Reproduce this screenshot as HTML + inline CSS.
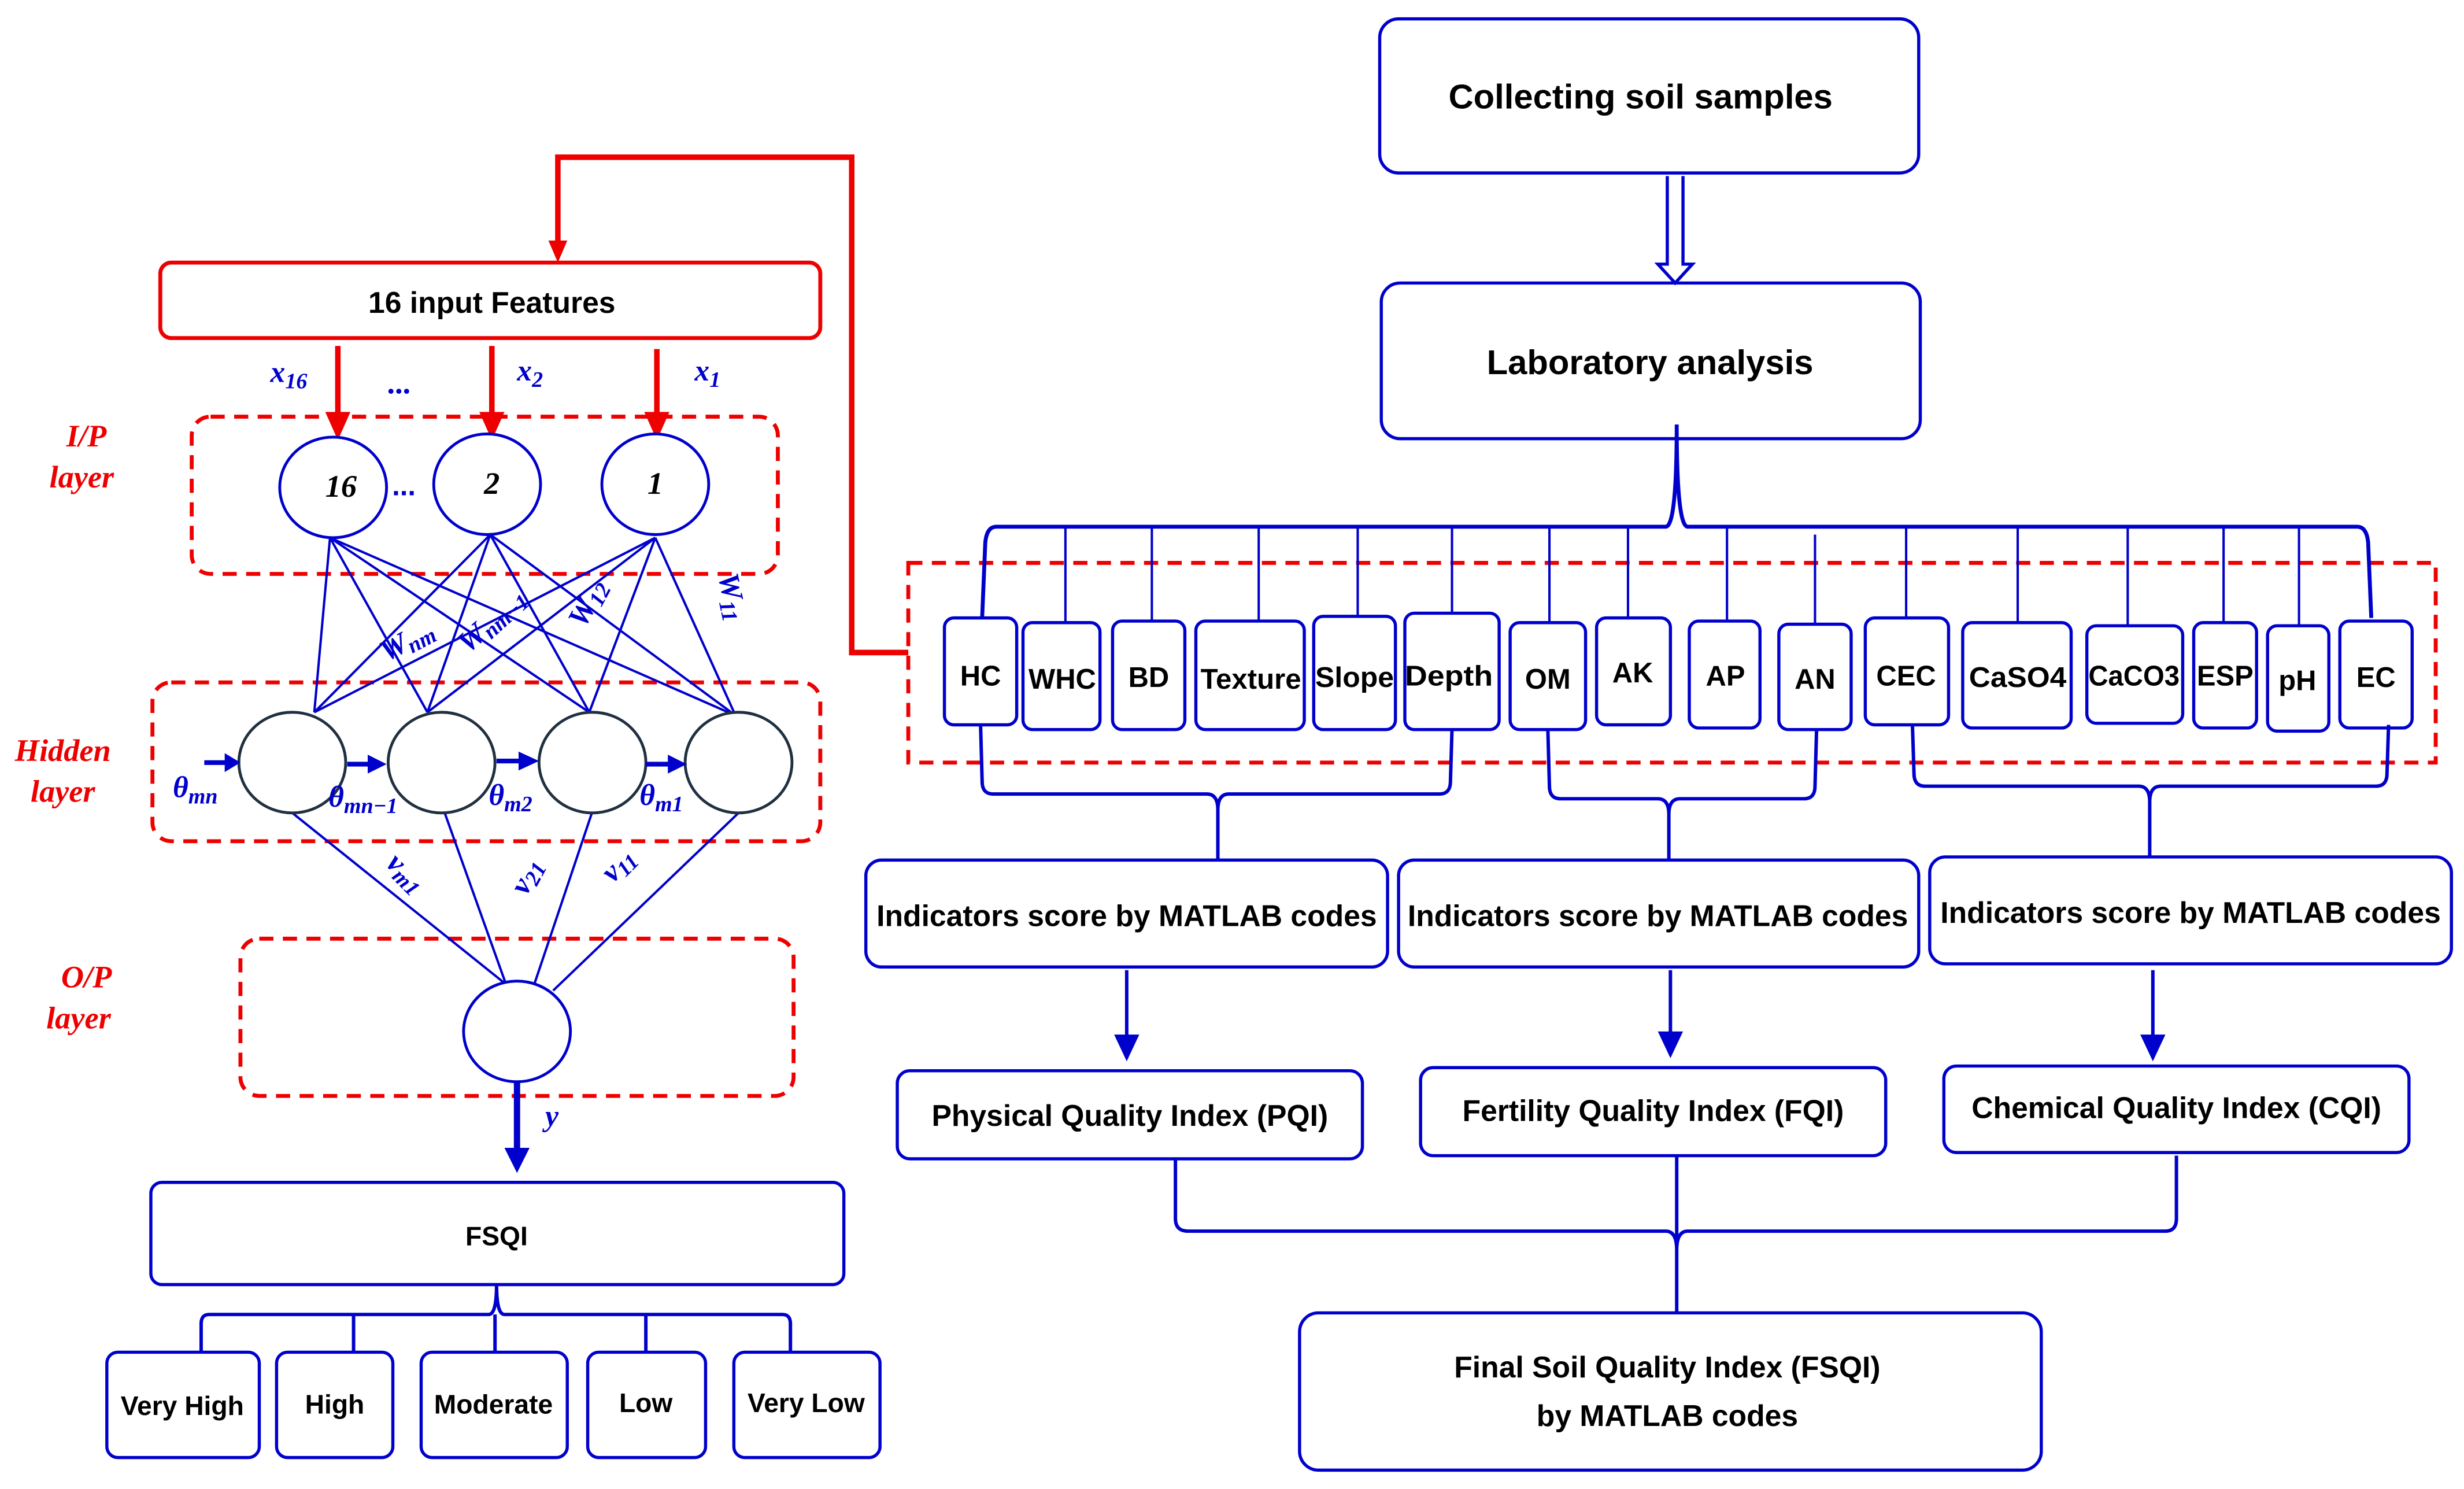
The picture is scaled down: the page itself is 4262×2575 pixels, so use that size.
<!DOCTYPE html>
<html><head><meta charset="utf-8"><style>html,body{margin:0;padding:0;background:#fff}svg{display:block}</style></head>
<body>
<svg width="4262" height="2575" viewBox="0 0 1568 947" preserveAspectRatio="none" xmlns="http://www.w3.org/2000/svg">
<g font-family="Liberation Sans, sans-serif" font-weight="bold">
<polyline points="578,415 542,415 542,100 355,100 355,155" fill="none" stroke="#e00" stroke-width="3.5"/>
<path d="M349,153 L361,153 L355,167 Z" fill="#e00"/>
<rect x="102" y="167" width="420" height="48" rx="7" fill="#fff" stroke="#e00" stroke-width="2.5"/>
<text x="313" y="199" font-size="19" text-anchor="middle">16 input Features</text>
<g stroke="#e00" stroke-width="3.5">
<line x1="215" y1="220" x2="215" y2="266"/><line x1="313" y1="220" x2="313" y2="266"/><line x1="418" y1="222" x2="418" y2="266"/></g>
<g fill="#e00"><path d="M207,262 L223,262 L215,280 Z"/><path d="M305,262 L321,262 L313,280 Z"/><path d="M410,262 L426,262 L418,280 Z"/></g>
<g fill="#00c" font-family="Liberation Serif, serif" font-style="italic" font-size="19">
<text x="172" y="243">x<tspan font-size="14" dy="4">16</tspan></text>
<text x="247" y="250" font-size="20">...</text>
<text x="329" y="242">x<tspan font-size="14" dy="4">2</tspan></text>
<text x="442" y="242">x<tspan font-size="14" dy="4">1</tspan></text>
</g>
<g fill="none" stroke="#e00" stroke-width="2.5" stroke-dasharray="9,6">
<rect x="122" y="265" width="373" height="100" rx="12"/>
<rect x="97" y="434" width="425" height="101" rx="12"/>
<rect x="153" y="597" width="352" height="100" rx="12"/>
<rect x="578" y="358" width="972" height="127"/>
</g>
<g fill="#e00" font-family="Liberation Serif, serif" font-style="italic" font-size="20" text-anchor="middle">
<text x="55" y="284">I/P</text><text x="52" y="310">layer</text>
<text x="40" y="484">Hidden</text><text x="40" y="510">layer</text>
<text x="55" y="628">O/P</text><text x="50" y="654">layer</text>
</g>
<g stroke="#00c" stroke-width="1.5">
<line x1="210" y1="342" x2="200" y2="453"/><line x1="210" y1="342" x2="272" y2="453"/><line x1="210" y1="342" x2="375" y2="453"/><line x1="210" y1="342" x2="468" y2="455"/>
<line x1="312" y1="340" x2="200" y2="453"/><line x1="312" y1="340" x2="272" y2="453"/><line x1="312" y1="340" x2="375" y2="453"/><line x1="312" y1="340" x2="468" y2="455"/>
<line x1="417" y1="342" x2="200" y2="453"/><line x1="417" y1="342" x2="272" y2="453"/><line x1="417" y1="342" x2="375" y2="453"/><line x1="417" y1="342" x2="468" y2="455"/>
<line x1="186" y1="517" x2="322" y2="626"/><line x1="283" y1="517" x2="322" y2="626"/><line x1="377" y1="516" x2="340" y2="626"/><line x1="470" y1="517" x2="352" y2="630"/>
</g>
<g fill="#fff" stroke="#00c" stroke-width="1.8">
<ellipse cx="212" cy="310" rx="34" ry="32"/><ellipse cx="310" cy="308" rx="34" ry="32"/><ellipse cx="417" cy="308" rx="34" ry="32"/>
<ellipse cx="329" cy="656" rx="34" ry="32"/>
</g>
<g fill="#fff" stroke="#203040" stroke-width="1.8">
<ellipse cx="186" cy="485" rx="34" ry="32"/><ellipse cx="281" cy="485" rx="34" ry="32"/><ellipse cx="377" cy="485" rx="34" ry="32"/><ellipse cx="470" cy="485" rx="34" ry="32"/>
</g>
<g font-family="Liberation Serif, serif" font-style="italic" font-size="20" text-anchor="middle" fill="#000">
<text x="217" y="316">16</text><text x="313" y="314">2</text><text x="417" y="314">1</text></g>
<text x="257" y="315" fill="#00c" font-size="18" text-anchor="middle">...</text>
<g fill="#00c" font-family="Liberation Serif, serif" font-style="italic" font-size="19">
<text transform="translate(246,421) rotate(-28)">W<tspan font-size="14" dy="3">nm</tspan></text>
<text transform="translate(298,416) rotate(-42)">W<tspan font-size="14" dy="3">nm−1</tspan></text>
<text transform="translate(372,400) rotate(-62)">W<tspan font-size="14" dy="3">12</tspan></text>
<text transform="translate(457,366) rotate(78)">W<tspan font-size="14" dy="3">11</tspan></text>
<text x="110" y="507">θ<tspan font-size="14" dy="4">mn</tspan></text>
<text x="209" y="513">θ<tspan font-size="14" dy="4">mn−1</tspan></text>
<text x="311" y="512">θ<tspan font-size="14" dy="4">m2</tspan></text>
<text x="407" y="512">θ<tspan font-size="14" dy="4">m1</tspan></text>
<text transform="translate(245,550) rotate(45)">v<tspan font-size="14" dy="3">m1</tspan></text>
<text transform="translate(335,570) rotate(-62)">v<tspan font-size="14" dy="3">21</tspan></text>
<text transform="translate(390,562) rotate(-45)">v<tspan font-size="14" dy="3">11</tspan></text>
<text x="347" y="716">y</text>
</g>
<g stroke="#00c" stroke-width="3"><line x1="130" y1="485" x2="145" y2="485"/><line x1="221" y1="486" x2="236" y2="486"/><line x1="316" y1="484" x2="332" y2="484"/><line x1="411" y1="486" x2="427" y2="486"/></g>
<g fill="#00c"><path d="M143,479 L153,485 L143,491Z"/><path d="M234,480 L246,486 L234,492Z"/><path d="M330,478 L343,484 L330,490Z"/><path d="M425,480 L437,486 L425,492Z"/></g>
<line x1="329" y1="688" x2="329" y2="732" stroke="#00c" stroke-width="4"/>
<path d="M321,730 L337,730 L329,746Z" fill="#00c"/>
<g fill="#fff" stroke="#00c" stroke-width="2">
<rect x="96" y="752" width="441" height="65" rx="7"/>
<rect x="68" y="860" width="97" height="67" rx="7"/><rect x="176" y="860" width="74" height="67" rx="7"/><rect x="268" y="860" width="93" height="67" rx="7"/><rect x="374" y="860" width="75" height="67" rx="7"/><rect x="467" y="860" width="93" height="67" rx="7"/>
</g>
<path d="M316,817 Q316,836 311,836 L133,836 Q128,836 128,842 L128,860 M316,817 Q316,836 321,836 L498,836 Q503,836 503,842 L503,860 M225,836 L225,860 M315,836 L315,860 M411,836 L411,860" fill="none" stroke="#00c" stroke-width="2.2"/>
<g font-size="17" text-anchor="middle"><text x="316" y="792">FSQI</text>
<text x="116" y="900">Very High</text><text x="213" y="899">High</text><text x="314" y="899">Moderate</text><text x="411" y="898">Low</text><text x="513" y="898">Very Low</text></g>
<g fill="#fff" stroke="#00c" stroke-width="2">
<rect x="878" y="12" width="343" height="98" rx="12"/>
<rect x="879" y="180" width="343" height="99" rx="12"/>
</g>
<g font-size="22" text-anchor="middle"><text x="1044" y="69">Collecting soil samples</text><text x="1050" y="238">Laboratory analysis</text></g>
<path d="M1061,112 L1061,168 L1055,168 L1066,180 L1077,168 L1071,168 L1071,112" fill="#fff" stroke="#00c" stroke-width="2"/>
<path d="M1067,270 Q1067,335 1060,335 L634,335 Q628,335 627,345 L625,393 M1067,270 Q1067,335 1074,335 L1500,335 Q1506,335 1507,345 L1509,393" fill="none" stroke="#00c" stroke-width="2.5"/>
<g stroke="#00c" stroke-width="1.5">
<line x1="678" y1="335" x2="678" y2="397"/><line x1="733" y1="335" x2="733" y2="397"/><line x1="801" y1="335" x2="801" y2="397"/><line x1="864" y1="335" x2="864" y2="393"/><line x1="924" y1="335" x2="924" y2="390"/><line x1="986" y1="335" x2="986" y2="397"/><line x1="1036" y1="335" x2="1036" y2="393"/><line x1="1099" y1="335" x2="1099" y2="395"/><line x1="1155" y1="340" x2="1155" y2="397"/><line x1="1213" y1="335" x2="1213" y2="393"/><line x1="1284" y1="335" x2="1284" y2="397"/><line x1="1354" y1="335" x2="1354" y2="397"/><line x1="1415" y1="335" x2="1415" y2="397"/><line x1="1463" y1="335" x2="1463" y2="397"/>
</g>
<g fill="#fff" stroke="#00c" stroke-width="2">
<rect x="601" y="393" width="46" height="68" rx="6"/><rect x="651" y="396" width="49" height="68" rx="6"/><rect x="708" y="395" width="46" height="69" rx="6"/><rect x="761" y="395" width="69" height="69" rx="6"/><rect x="836" y="392" width="52" height="72" rx="6"/><rect x="894" y="390" width="60" height="74" rx="6"/><rect x="961" y="396" width="48" height="68" rx="6"/><rect x="1016" y="393" width="47" height="68" rx="6"/><rect x="1075" y="395" width="45" height="68" rx="6"/><rect x="1132" y="397" width="46" height="67" rx="6"/><rect x="1187" y="393" width="53" height="68" rx="6"/><rect x="1249" y="396" width="69" height="67" rx="6"/><rect x="1328" y="398" width="61" height="62" rx="6"/><rect x="1396" y="396" width="40" height="67" rx="6"/><rect x="1443" y="398" width="39" height="67" rx="6"/><rect x="1489" y="395" width="46" height="68" rx="6"/>
</g>
<g font-size="18" text-anchor="middle">
<text x="624" y="436">HC</text><text x="676" y="438">WHC</text><text x="731" y="437">BD</text><text x="796" y="438" textLength="64" lengthAdjust="spacingAndGlyphs">Texture</text><text x="862" y="437" textLength="50" lengthAdjust="spacingAndGlyphs">Slope</text><text x="922" y="436" textLength="56" lengthAdjust="spacingAndGlyphs">Depth</text><text x="985" y="438">OM</text><text x="1039" y="434">AK</text><text x="1098" y="436">AP</text><text x="1155" y="438">AN</text><text x="1213" y="436">CEC</text><text x="1284" y="437" textLength="62" lengthAdjust="spacingAndGlyphs">CaSO4</text><text x="1358" y="436" textLength="58" lengthAdjust="spacingAndGlyphs">CaCO3</text><text x="1416" y="436">ESP</text><text x="1462" y="439">pH</text><text x="1512" y="437">EC</text>
</g>
<path d="M624,461 L625,497 Q625,505 632,505 L768,505 Q775,505 775,515 L775,547 M775,515 Q775,505 782,505 L916,505 Q923,505 923,497 L924,464" fill="none" stroke="#00c" stroke-width="2.2"/>
<path d="M985,464 L986,500 Q986,508 993,508 L1055,508 Q1062,508 1062,518 L1062,547 M1062,518 Q1062,508 1069,508 L1148,508 Q1155,508 1155,500 L1156,464" fill="none" stroke="#00c" stroke-width="2.2"/>
<path d="M1217,461 L1218,492 Q1218,500 1225,500 L1361,500 Q1368,500 1368,510 L1368,547 M1368,510 Q1368,500 1375,500 L1512,500 Q1519,500 1519,492 L1520,461" fill="none" stroke="#00c" stroke-width="2.2"/>
<g fill="#fff" stroke="#00c" stroke-width="2">
<rect x="551" y="547" width="332" height="68" rx="10"/><rect x="890" y="547" width="331" height="68" rx="10"/><rect x="1228" y="545" width="332" height="68" rx="10"/>
<rect x="571" y="681" width="296" height="56" rx="8"/><rect x="904" y="679" width="296" height="56" rx="8"/><rect x="1237" y="678" width="296" height="55" rx="8"/>
<rect x="827" y="835" width="472" height="100" rx="12"/>
</g>
<g font-size="19" text-anchor="middle">
<text x="717" y="589">Indicators score by MATLAB codes</text><text x="1055" y="589">Indicators score by MATLAB codes</text><text x="1394" y="587">Indicators score by MATLAB codes</text>
<text x="719" y="716">Physical Quality Index (PQI)</text><text x="1052" y="713">Fertility Quality Index (FQI)</text><text x="1385" y="711">Chemical Quality Index (CQI)</text>
<text x="1061" y="876">Final Soil Quality Index (FSQI)</text><text x="1061" y="907">by MATLAB codes</text>
</g>
<g stroke="#00c" stroke-width="2.2"><line x1="717" y1="617" x2="717" y2="662"/><line x1="1063" y1="617" x2="1063" y2="660"/><line x1="1370" y1="617" x2="1370" y2="662"/></g>
<g fill="#00c"><path d="M709,658 L725,658 L717,675Z"/><path d="M1055,656 L1071,656 L1063,673Z"/><path d="M1362,658 L1378,658 L1370,675Z"/></g>
<path d="M748,737 L748,775 Q748,783 756,783 L1060,783 Q1067,783 1067,795 L1067,835 M1067,795 Q1067,783 1074,783 L1378,783 Q1385,783 1385,775 L1385,735 M1067,735 L1067,835" fill="none" stroke="#00c" stroke-width="2.2"/>
</g>
</svg>
</body></html>
